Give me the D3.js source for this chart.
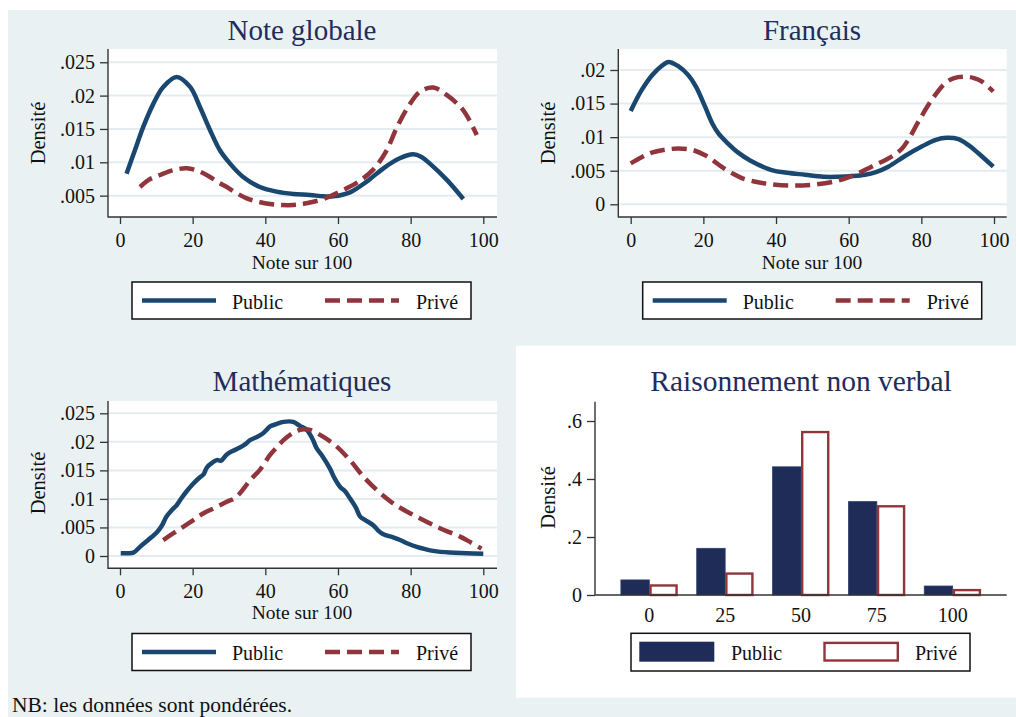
<!DOCTYPE html>
<html><head><meta charset="utf-8">
<script src="https://cdn.jsdelivr.net/npm/d3@7"></script>
<style>
body{margin:0;background:#fff}
svg{display:block}
text{font-family:"Liberation Serif","DejaVu Serif",serif}
</style>
</head><body>
<svg id="c" width="1016" height="717"></svg>
<script>
// ---------------- DATA ----------------
const xTicks = [0, 20, 40, 60, 80, 100];
const xTickLabels = ["0", "20", "40", "60", "80", "100"];
const yTicksGlobal = [0.005, 0.01, 0.015, 0.02, 0.025];
const yLabelsGlobal = [".005", ".01", ".015", ".02", ".025"];
const yTicksFrancais = [0, 0.005, 0.01, 0.015, 0.02];
const yLabelsFrancais = ["0", ".005", ".01", ".015", ".02"];
const yTicksMath = [0, 0.005, 0.01, 0.015, 0.02, 0.025];
const yLabelsMath = ["0", ".005", ".01", ".015", ".02", ".025"];
const yTicksRaison = [0, 0.2, 0.4, 0.6];
const yLabelsRaison = ["0", ".2", ".4", ".6"];

const seriesNames = ["Public", "Privé"];

const globalPublic = [[1.8,.0083],[4.1,.0118],[6.4,.0153],[9.2,.0188],[11.9,.0213],[15.6,.0228],[19.3,.0213],[22,.0183],[24.8,.0148],[27.5,.0118],[30.3,.0098],[33.9,.0078],[38.5,.0063],[43.1,.0056],[47.7,.00525],[52.3,.0051],[56,.0049],[58.7,.0049],[63.3,.0055],[67.9,.0071],[72.5,.0091],[77,.0106],[80.7,.0112],[83,.0108],[85.3,.0098],[89.9,.0074],[94.5,.0045]];
const globalPrive = [[5.5,.0063],[8,.0074],[11,.0081],[14.5,.0088],[18.4,.0091],[21.5,.0087],[24.8,.0078],[27,.0070],[29.4,.0063],[32,.0054],[34.9,.0046],[38,.0041],[41.3,.00375],[44.5,.0036],[47.7,.0036],[51.3,.00385],[56,.0045],[60.5,.0056],[65.1,.0069],[69.7,.0089],[73.4,.0118],[76.1,.0151],[79.3,.0183],[82.6,.0206],[86.2,.0212],[89.9,.0201],[94.5,.0178],[98.2,.0141]];

const francaisPublic = [[0,.0139],[3,.0170],[6,.0193],[8.5,.0206],[10.4,.0212],[13,.0206],[15.9,.0192],[18,.0175],[20.5,.0145],[22.5,.0120],[24.1,.0106],[26.5,.0092],[29.6,.0077],[33,.0065],[38.8,.0051],[43,.0047],[48,.0044],[53,.0041],[57.2,.0041],[61,.0042],[64.5,.0044],[67.5,.0048],[70.9,.0056],[75.5,.0072],[80.1,.0086],[84,.0096],[87,.0099],[90.2,.0097],[93,.0088],[95.7,.0076],[99.8,.0056]];
const francaisPrive = [[0,.0061],[3,.0070],[5.8,.0077],[9,.0081],[13.1,.0083],[17,.0081],[20.5,.0073],[23,.0064],[25,.0056],[28,.0046],[30.6,.0039],[34,.0034],[37,.0031],[43.4,.0028],[49.8,.0029],[56.2,.0034],[60.8,.0042],[66.3,.0056],[71.8,.0071],[74.5,.0082],[76.4,.0096],[79.2,.0123],[82.8,.0155],[86.5,.0180],[89,.0188],[92,.0190],[94.5,.0188],[96.6,.0183],[99.8,.0168]];

const mathPublic = [[0.2,.0005],[2,.0005],[3.7,.0006],[5.5,.0016],[8.3,.0031],[10.1,.0041],[11.5,.0053],[12.8,.0069],[14.5,.0082],[15.6,.0089],[17,.0102],[18.3,.0113],[20.2,.0127],[22,.0138],[23,.0143],[23.9,.0155],[25.5,.0164],[26.6,.0168],[27.8,.0167],[29.4,.0178],[31,.0184],[33,.0190],[34.5,.0196],[35.8,.0203],[37.5,.0208],[39.4,.0215],[40.5,.0222],[41.3,.0227],[43,.0231],[45,.0235],[47.7,.0235],[49.5,.0228],[51.4,.0221],[53,.0205],[54.1,.0189],[55.5,.0177],[57.8,.0153],[59,.0137],[60.6,.0121],[62,.0113],[63.3,.0101],[65,.0084],[66.1,.0069],[67.5,.0063],[69.7,.0054],[71,.0045],[72.5,.0038],[75,.0033],[77.1,.0028],[79.5,.0021],[81.7,.0016],[84,.0012],[86.2,.0009],[90.8,.0006],[95.4,.0005],[100,.0004]];
const mathPrive = [[11.9,.0028],[14.5,.0039],[17.4,.0051],[20,.0062],[23,.0075],[26,.0084],[29.4,.0095],[31.5,.0101],[33,.0110],[34.5,.0122],[35.8,.0133],[38.5,.0151],[41.3,.0177],[43.5,.0193],[45,.0203],[47,.0213],[48.6,.0219],[50.5,.0222],[52.3,.0221],[55.9,.0209],[59.6,.0192],[63.3,.0168],[67,.0139],[70.6,.0116],[73,.0103],[75.2,.0092],[79.8,.0075],[84.4,.0060],[89,.0046],[93.6,.0034],[96.5,.0024],[99.5,.0013]];

const raisonCategories = ["0", "25", "50", "75", "100"];
const raisonPublic = [0.052, 0.161, 0.442, 0.322, 0.031];
const raisonPrive = [0.037, 0.078, 0.566, 0.310, 0.021];

// ---------------- STYLE ----------------
const BG = "#e9f1f3", GRID = "#e3ecef", NAVY = "#1a476f", MAROON = "#90353b",
      BARNAVY = "#1e2c57", TITLE = "#1e2d5c", AXIS = "#333";
const DASH = "15,7";

const svg = d3.select("#c");
svg.append("rect").attr("width",1016).attr("height",717).attr("fill","#fff");
svg.append("rect").attr("x",8).attr("y",10).attr("width",1008).attr("height",707).attr("fill",BG);

function linePanel(cfg){
  const g = svg.append("g");
  const x = d3.scaleLinear().domain([0,100]).range(cfg.xr);
  const y = d3.scaleLinear().domain(cfg.yd).range(cfg.yr);
  g.append("rect").attr("x",cfg.L).attr("y",cfg.T).attr("width",cfg.R-cfg.L).attr("height",cfg.B-cfg.T).attr("fill","#fff");
  g.selectAll("line.grid").data(cfg.yTicks).join("line").attr("class","grid")
    .attr("x1",cfg.L+1).attr("x2",cfg.R).attr("y1",d=>y(d)).attr("y2",d=>y(d))
    .attr("stroke",GRID).attr("stroke-width",2);
  const ya = g.append("g").attr("transform",`translate(${cfg.L},0)`)
    .call(d3.axisLeft(y).tickValues(cfg.yTicks).tickFormat((d,i)=>cfg.yLabels[i]).tickSize(8).tickPadding(5));
  ya.select(".domain").remove();
  ya.selectAll("line").attr("stroke",AXIS).attr("stroke-width",1.3);
  ya.selectAll("text").attr("font-size",20).attr("fill","#111").style("font-family","Liberation Serif");
  const xa = g.append("g").attr("transform",`translate(0,${cfg.B})`)
    .call(d3.axisBottom(x).tickValues(xTicks).tickFormat((d,i)=>xTickLabels[i]).tickSize(7));
  xa.select(".domain").remove();
  xa.selectAll("line").attr("stroke",AXIS).attr("stroke-width",1.3);
  xa.selectAll("text").attr("dy",null).attr("y",cfg.tickBase).attr("font-size",20).attr("fill","#111").style("font-family","Liberation Serif");
  g.append("line").attr("x1",cfg.L).attr("x2",cfg.L).attr("y1",cfg.T).attr("y2",cfg.B+0.6).attr("stroke",AXIS).attr("stroke-width",1.4);
  g.append("line").attr("x1",cfg.L).attr("x2",cfg.R).attr("y1",cfg.B).attr("y2",cfg.B).attr("stroke",AXIS).attr("stroke-width",1.4);
  const line = d3.line().x(d=>x(d[0])).y(d=>y(d[1])).curve(d3.curveCatmullRom.alpha(0.5));
  g.append("path").datum(cfg.pub).attr("d",line).attr("fill","none").attr("stroke",NAVY).attr("stroke-width",4.5).attr("stroke-linejoin","round");
  g.append("path").datum(cfg.pri).attr("d",line).attr("fill","none").attr("stroke",MAROON).attr("stroke-width",4.5).attr("stroke-dasharray",DASH);
  // titles
  g.append("text").attr("x",cfg.cx).attr("y",cfg.titleY).attr("text-anchor","middle").attr("font-size",29).attr("fill",TITLE).text(cfg.title);
  g.append("text").attr("x",cfg.cx).attr("y",cfg.axTitleY).attr("text-anchor","middle").attr("font-size",19.5).attr("fill","#111").text("Note sur 100");
  g.append("text").attr("transform",`translate(${cfg.ylx},${cfg.yly}) rotate(-90)`).attr("text-anchor","middle").attr("dominant-baseline","central").attr("font-size",20.5).attr("fill","#111").text("Densité");
  // legend
  const lg = cfg.leg;
  g.append("rect").attr("x",lg.x).attr("y",lg.y).attr("width",339).attr("height",37).attr("fill","#fff").attr("stroke","#111").attr("stroke-width",1.5);
  const ly = lg.y + 18.5;
  g.append("line").attr("x1",lg.x+10).attr("x2",lg.x+84).attr("y1",ly).attr("y2",ly).attr("stroke",NAVY).attr("stroke-width",4.5);
  g.append("line").attr("x1",lg.x+193).attr("x2",lg.x+267).attr("y1",ly).attr("y2",ly).attr("stroke",MAROON).attr("stroke-width",4.5).attr("stroke-dasharray",DASH);
  g.append("text").attr("x",lg.x+100).attr("y",ly+8).attr("font-size",20).attr("fill","#111").text(seriesNames[0]);
  g.append("text").attr("x",lg.x+284).attr("y",ly+8).attr("font-size",20).attr("fill","#111").text(seriesNames[1]);
}

linePanel({L:108,R:497,T:49,B:217,xr:[120,483.3],yd:[0,0.025],yr:[229,62.25],
  yTicks:yTicksGlobal,yLabels:yLabelsGlobal,tickBase:30.3,pub:globalPublic,pri:globalPrive,
  cx:302,titleY:40,axTitleY:268.8,title:"Note globale",ylx:38,yly:133,leg:{x:132,y:282}});
linePanel({L:618.3,R:1006.7,T:49,B:217,xr:[630.7,994],yd:[0,0.02],yr:[204.3,70],
  yTicks:yTicksFrancais,yLabels:yLabelsFrancais,tickBase:30.3,pub:francaisPublic,pri:francaisPrive,
  cx:812,titleY:40,axTitleY:268.8,title:"Français",ylx:548,yly:133,leg:{x:642.7,y:282}});
linePanel({L:108,R:497,T:401,B:568.3,xr:[120,483.3],yd:[0,0.025],yr:[556,413.3],
  yTicks:yTicksMath,yLabels:yLabelsMath,tickBase:29.8,pub:mathPublic,pri:mathPrive,
  cx:302,titleY:390.7,axTitleY:619.3,title:"Mathématiques",ylx:38,yly:483,leg:{x:132,y:633.5}});

// ---------- bar panel ----------
(function(){
  const g = svg.append("g");
  g.append("rect").attr("x",516).attr("y",345.7).attr("width",500).attr("height",352).attr("fill","#fff");
  const L=595, R=1006.7, T=401.7, B=595;
  const x = d3.scaleBand().domain(raisonCategories).range([611.4,990.6]).paddingInner(0.25).paddingOuter(0.125);
  const xs = d3.scaleBand().domain(seriesNames).range([0,x.bandwidth()]);
  const y = d3.scaleLinear().domain([0,0.6]).range([B,421]);
  const rows = raisonCategories.map((c,i)=>({c, v:[raisonPublic[i], raisonPrive[i]]}));
  const grp = g.selectAll("g.cat").data(rows).join("g").attr("transform",d=>`translate(${x(d.c)},0)`);
  grp.append("rect").attr("x",xs("Public")).attr("width",xs.bandwidth()).attr("y",d=>y(d.v[0])).attr("height",d=>B-y(d.v[0])).attr("fill",BARNAVY).attr("stroke","#2d4470").attr("stroke-width",0.8);
  grp.append("rect").attr("x",xs("Privé")+1.2).attr("width",xs.bandwidth()-2.4).attr("y",d=>y(d.v[1])+1.2).attr("height",d=>B-y(d.v[1])-1.2).attr("fill","#fff").attr("stroke",MAROON).attr("stroke-width",2.4);
  const ya = g.append("g").attr("transform",`translate(${L},0)`)
    .call(d3.axisLeft(y).tickValues(yTicksRaison).tickFormat((d,i)=>yLabelsRaison[i]).tickSize(8).tickPadding(5));
  ya.select(".domain").remove();
  ya.selectAll("line").attr("stroke",AXIS).attr("stroke-width",1.3);
  ya.selectAll("text").attr("font-size",20).attr("fill","#111").style("font-family","Liberation Serif");
  const xa = g.append("g").attr("transform",`translate(0,${B})`).call(d3.axisBottom(x).tickSize(0));
  xa.select(".domain").remove();
  xa.selectAll("text").attr("dy",null).attr("y",26.7).attr("font-size",20).attr("fill","#111").style("font-family","Liberation Serif");
  g.append("line").attr("x1",L).attr("x2",L).attr("y1",T).attr("y2",B).attr("stroke",AXIS).attr("stroke-width",1.4);
  g.append("line").attr("x1",L).attr("x2",R).attr("y1",B).attr("y2",B).attr("stroke",AXIS).attr("stroke-width",1.4);
  g.append("text").attr("x",801).attr("y",390.7).attr("text-anchor","middle").attr("font-size",29.5).attr("fill",TITLE).text("Raisonnement non verbal");
  g.append("text").attr("transform",`translate(548,497.5) rotate(-90)`).attr("text-anchor","middle").attr("dominant-baseline","central").attr("font-size",20.5).attr("fill","#111").text("Densité");
  g.append("rect").attr("x",631).attr("y",633.3).attr("width",339).attr("height",37.7).attr("fill","#fff").attr("stroke","#111").attr("stroke-width",1.5);
  g.append("rect").attr("x",639.3).attr("y",641.7).attr("width",75).attr("height",20).attr("fill",BARNAVY);
  g.append("rect").attr("x",824.5).attr("y",642.9).attr("width",73.3).attr("height",17.6).attr("fill","#fff").attr("stroke",MAROON).attr("stroke-width",2.4);
  g.append("text").attr("x",731).attr("y",660).attr("font-size",20).attr("fill","#111").text(seriesNames[0]);
  g.append("text").attr("x",915).attr("y",660).attr("font-size",20).attr("fill","#111").text(seriesNames[1]);
})();

svg.append("text").attr("x",12).attr("y",711.5).attr("font-size",21.5).attr("fill","#111").text("NB: les données sont pondérées.");
</script>
</body></html>
